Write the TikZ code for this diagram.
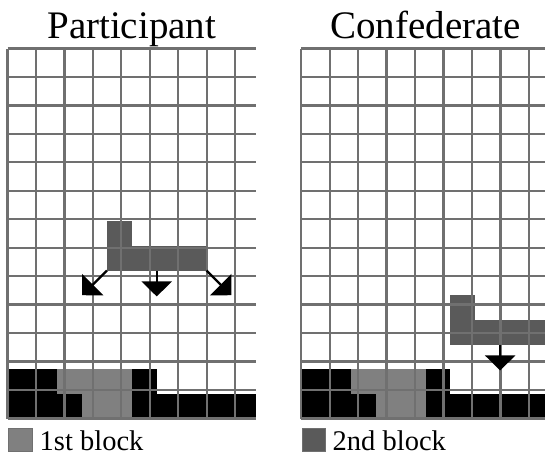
\documentclass[tikz,border=0pt]{standalone}
\usepackage{fontspec}
\setmainfont{Liberation Serif}
\usetikzlibrary{arrows.meta}
\definecolor{gridgray}{HTML}{707070}
\definecolor{firstblk}{HTML}{808080}
\definecolor{secondblk}{HTML}{5A5A5A}
\tikzset{
  gridline/.style={draw=gridgray, line width=2.3pt},
  firstcell/.style={fill=firstblk},
  secondcell/.style={fill=secondblk},
  blackcell/.style={fill=black},
  droparrow/.style={line width=2.3pt, -{Triangle[length=15pt,width=30pt]}},
  titletext/.style={font=\fontsize{39}{44}\selectfont, anchor=base, inner sep=0pt},
  legendtext/.style={font=\fontsize{28.5}{32}\selectfont, anchor=base west, inner sep=0pt},
  legendbox/.style={draw=gridgray, line width=1pt}
}
\begin{document}
\begin{tikzpicture}[x=1pt, y=-1pt]
\useasboundingbox (0,0) rectangle (545,456);
\clip (0,0) rectangle (545,456);
\fill[white] (0,0) rectangle (545,456);

% Titles
\node[titletext] (ptitle) at (131.8,38.3) {Participant};
\node[titletext] (ctitle) at (425.6,38.3) {Confederate};

% Participant grid
\begin{scope}[shift={(7.5,48.5)}, x=24.87pt, y=-24.67pt]
  \fill[secondcell] (4,7) rectangle (5,8);
  \fill[secondcell] (4,8) rectangle (8,9);
  \fill[blackcell] (0,13) rectangle (2,14);
  \fill[firstcell] (2,13) rectangle (5,14);
  \fill[blackcell] (5,13) rectangle (6,14);
  \fill[blackcell] (0,14) rectangle (3,15);
  \fill[firstcell] (3,14) rectangle (5,15);
  \fill[blackcell] (5,14) rectangle (10,15);
  \draw[gridline] (0,0) grid (10,15);
  \coordinate (pl0) at (4,9);
  \coordinate (pl1) at (3,10);
  \coordinate (pm0) at (6,9);
  \coordinate (pm1) at (6,10.05);
  \coordinate (pr0) at (8,9);
  \coordinate (pr1) at (9,10);
  \draw[droparrow] (pl0) -- (pl1);
  \draw[droparrow] (pm0) -- (pm1);
  \draw[droparrow] (pr0) -- (pr1);
\end{scope}

% Confederate grid
\begin{scope}[shift={(301.2,48.5)}, x=24.87pt, y=-24.67pt]
  \fill[secondcell] (6,10) rectangle (7,11);
  \fill[secondcell] (6,11) rectangle (10,12);
  \fill[blackcell] (0,13) rectangle (2,14);
  \fill[firstcell] (2,13) rectangle (5,14);
  \fill[blackcell] (5,13) rectangle (6,14);
  \fill[blackcell] (0,14) rectangle (3,15);
  \fill[firstcell] (3,14) rectangle (5,15);
  \fill[blackcell] (5,14) rectangle (10,15);
  \draw[gridline] (0,0) grid (10,15);
  \coordinate (c0) at (8,12);
  \coordinate (c1) at (8,13.05);
  \draw[droparrow] (c0) -- (c1);
\end{scope}

% Legend
\filldraw[legendbox, fill=firstblk] (8,428.5) rectangle (32.5,451);
\node[legendtext] (l1) at (39.5,450) {1st block};
\filldraw[legendbox, fill=secondblk] (302,428.5) rectangle (325.5,451);
\node[legendtext] (l2) at (332.5,450) {2nd block};
\end{tikzpicture}
\end{document}
